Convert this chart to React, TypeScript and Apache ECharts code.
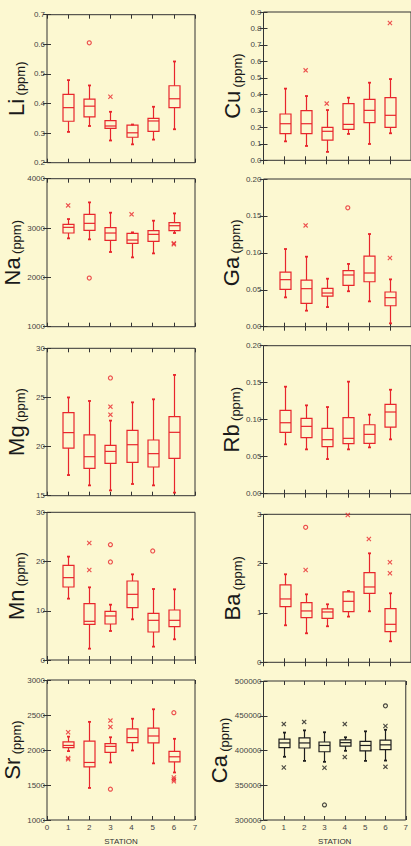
import React, { useEffect, useRef } from "react";
import * as echarts from "echarts";

// Stations (x positions)
const stations = [1, 2, 3, 4, 5, 6];
const stationTicks = [0, 1, 2, 3, 4, 5, 6, 7];

// Box data per station: [low whisker, Q1, median, Q3, high whisker]
const liBoxes = [
  [0.304, 0.34, 0.386, 0.431, 0.479],
  [0.324, 0.355, 0.391, 0.415, 0.461],
  [0.275, 0.316, 0.324, 0.342, 0.372],
  [0.262, 0.286, 0.301, 0.327, 0.329],
  [0.278, 0.306, 0.341, 0.35, 0.389],
  [0.313, 0.386, 0.416, 0.46, 0.542],
];
const liCircles = [[2, 0.605]];
const liStars = [[3, 0.423]];

const cuBoxes = [
  [0.115, 0.162, 0.222, 0.281, 0.435],
  [0.087, 0.162, 0.222, 0.301, 0.39],
  [0.051, 0.123, 0.176, 0.2, 0.305],
  [0.16, 0.188, 0.218, 0.344, 0.38],
  [0.099, 0.229, 0.303, 0.37, 0.471],
  [0.164, 0.2, 0.273, 0.38, 0.493],
];
const cuCircles: number[][] = [];
const cuStars = [[2, 0.546], [3, 0.344], [6, 0.833]];

const naBoxes = [
  [2791, 2899, 3014, 3074, 3182],
  [2770, 2953, 3095, 3277, 3520],
  [2514, 2750, 2899, 3007, 3311],
  [2405, 2689, 2757, 2892, 2912],
  [2486, 2730, 2872, 2946, 3149],
  [2899, 2946, 3047, 3108, 3297],
];
const naCircles = [[2, 1986]];
const naStars = [[1, 3459], [4, 3277], [6, 2690], [6, 2670]];

const gaBoxes = [
  [0.0397, 0.0506, 0.0637, 0.074, 0.1052],
  [0.0217, 0.0316, 0.0515, 0.0632, 0.0948],
  [0.0266, 0.0415, 0.0456, 0.0519, 0.065],
  [0.048, 0.056, 0.07, 0.076, 0.085],
  [0.0343, 0.0609, 0.0727, 0.0957, 0.1255],
  [0.0045, 0.0284, 0.0393, 0.047, 0.0641],
];
const gaCircles = [[4, 0.161]];
const gaStars = [[2, 0.1372], [6, 0.093]];

const mgBoxes = [
  [17.1, 19.85, 21.42, 23.45, 25.0],
  [16.05, 17.78, 18.97, 21.18, 24.64],
  [15.54, 18.29, 19.51, 20.13, 22.64],
  [16.19, 18.39, 20.19, 21.65, 24.5],
  [16.05, 17.92, 19.28, 20.67, 24.81],
  [15.31, 18.8, 21.45, 23.04, 27.29],
];
const mgCircles = [[3, 26.98]];
const mgStars = [[3, 24.06], [3, 23.25]];

const rbBoxes = [
  [0.0667, 0.0829, 0.0959, 0.1126, 0.1446],
  [0.0599, 0.0757, 0.091, 0.1018, 0.1194],
  [0.0468, 0.0635, 0.073, 0.0883, 0.1171],
  [0.0599, 0.0676, 0.0748, 0.1027, 0.1514],
  [0.0626, 0.068, 0.0802, 0.0932, 0.1068],
  [0.0734, 0.0901, 0.1104, 0.1207, 0.1405],
];
const rbCircles: number[][] = [];
const rbStars: number[][] = [];

const mnBoxes = [
  [12.46, 14.83, 16.73, 19.23, 21.0],
  [2.3, 7.25, 7.86, 11.44, 14.76],
  [5.89, 7.31, 8.94, 9.89, 11.24],
  [8.26, 10.63, 13.34, 16.05, 17.4],
  [2.71, 5.69, 8.06, 9.48, 14.42],
  [4.2, 6.77, 8.06, 10.16, 14.36],
];
const mnCircles = [[3, 23.43], [3, 19.91], [5, 22.14]];
const mnStars = [[2, 23.77], [2, 18.28]];

const baBoxes = [
  [0.75, 1.128, 1.284, 1.568, 1.784],
  [0.588, 0.905, 1.041, 1.209, 1.378],
  [0.73, 0.892, 1.02, 1.081, 1.176],
  [0.926, 1.027, 1.236, 1.426, 1.446],
  [1.034, 1.399, 1.527, 1.818, 2.209],
  [0.426, 0.622, 0.77, 1.088, 1.399],
];
const baCircles = [[2, 2.736]];
const baStars = [[2, 1.872], [4, 2.986], [5, 2.5], [6, 2.027], [6, 1.804]];

const srBoxes = [
  [1984, 2034, 2065, 2115, 2191],
  [1458, 1760, 1822, 2128, 2402],
  [1822, 1966, 2052, 2092, 2182],
  [1993, 2106, 2178, 2303, 2447],
  [1809, 2101, 2200, 2312, 2582],
  [1679, 1831, 1903, 1980, 2160],
];
const srCircles = [[3, 1440], [6, 2533]];
const srStars = [[1, 2254], [1, 1885], [1, 1868], [3, 2420], [3, 2330], [6, 1607], [6, 1580], [6, 1553]];

const caBoxes = [
  [390950, 404072, 410860, 416290, 425792],
  [385068, 403620, 410860, 418100, 428959],
  [383710, 398190, 407240, 412217, 426244],
  [399548, 406335, 411312, 415385, 419005],
  [385068, 399548, 407240, 413122, 427602],
  [385520, 401357, 408145, 414932, 429864],
];
const caCircles = [[3, 321719], [6, 464253]];
const caStars = [[1, 438009], [1, 375566], [2, 441176], [3, 375113], [4, 438009], [4, 390498], [6, 435294], [6, 376471]];

const RED = "#e8262c";
const BLACK = "#1e1e1e";
const AXIS = "#333333";
const BG = "#fcf8d1";
const FONT = "'Liberation Sans', Arial, Helvetica, sans-serif";

type Panel = {
  el: string;
  boxes: number[][];
  circles: number[][];
  stars: number[][];
  min: number;
  max: number;
  interval: number;
  decimals: number;
  left: number;
  width: number;
  top: number;
  height: number;
  color: string;
  bottomRow: boolean;
};

const L = 47;
const LW = 148;
const R = 263.5;
const RW = 149;

const panels: Panel[] = [
  { el: "Li", boxes: liBoxes, circles: liCircles, stars: liStars, min: 0.2, max: 0.7, interval: 0.1, decimals: 1, left: L, width: LW, top: 14.7, height: 148, color: RED, bottomRow: false },
  { el: "Cu", boxes: cuBoxes, circles: cuCircles, stars: cuStars, min: 0, max: 0.9, interval: 0.1, decimals: 1, left: R, width: RW, top: 12, height: 148.3, color: RED, bottomRow: false },
  { el: "Na", boxes: naBoxes, circles: naCircles, stars: naStars, min: 1000, max: 4000, interval: 1000, decimals: 0, left: L, width: LW, top: 178.7, height: 148, color: RED, bottomRow: false },
  { el: "Ga", boxes: gaBoxes, circles: gaCircles, stars: gaStars, min: 0, max: 0.2, interval: 0.05, decimals: 2, left: R, width: RW, top: 179, height: 147.7, color: RED, bottomRow: false },
  { el: "Mg", boxes: mgBoxes, circles: mgCircles, stars: mgStars, min: 15, max: 30, interval: 5, decimals: 0, left: L, width: LW, top: 348.3, height: 147.4, color: RED, bottomRow: false },
  { el: "Rb", boxes: rbBoxes, circles: rbCircles, stars: rbStars, min: 0, max: 0.2, interval: 0.05, decimals: 2, left: R, width: RW, top: 345.7, height: 148, color: RED, bottomRow: false },
  { el: "Mn", boxes: mnBoxes, circles: mnCircles, stars: mnStars, min: 0, max: 30, interval: 10, decimals: 0, left: L, width: LW, top: 512.3, height: 147.7, color: RED, bottomRow: false },
  { el: "Ba", boxes: baBoxes, circles: baCircles, stars: baStars, min: 0, max: 3, interval: 1, decimals: 0, left: R, width: RW, top: 514.3, height: 148, color: RED, bottomRow: false },
  { el: "Sr", boxes: srBoxes, circles: srCircles, stars: srStars, min: 1000, max: 3000, interval: 500, decimals: 0, left: L, width: LW, top: 680, height: 148.3, color: RED, bottomRow: true },
  { el: "Ca", boxes: caBoxes, circles: caCircles, stars: caStars, min: 300000, max: 500000, interval: 50000, decimals: 0, left: R, width: RW, top: 681, height: 147.3, color: BLACK, bottomRow: true },
];

const STAR_PATH =
  "path://M0 1.6L1.6 0L5 3.4L8.4 0L10 1.6L6.6 5L10 8.4L8.4 10L5 6.6L1.6 10L0 8.4L3.4 5Z";

function makeRenderer(color: string) {
  return function (_params: any, api: any) {
    const x = api.value(0);
    const lo = api.coord([x, api.value(1)]);
    const q1 = api.coord([x, api.value(2)]);
    const md = api.coord([x, api.value(3)]);
    const q3 = api.coord([x, api.value(4)]);
    const hi = api.coord([x, api.value(5)]);
    const cx = Math.round(lo[0]) + 0.5;
    const hw = 5.5;
    const cw = 1.5;
    const style = { stroke: color, lineWidth: 1.2, fill: "none" };
    return {
      type: "group",
      children: [
        { type: "line", shape: { x1: cx, y1: hi[1], x2: cx, y2: q3[1] }, style },
        { type: "line", shape: { x1: cx, y1: q1[1], x2: cx, y2: lo[1] }, style },
        { type: "line", shape: { x1: cx - cw, y1: hi[1], x2: cx + cw, y2: hi[1] }, style: { ...style, lineWidth: 1.8 } },
        { type: "line", shape: { x1: cx - cw, y1: lo[1], x2: cx + cw, y2: lo[1] }, style: { ...style, lineWidth: 1.8 } },
        { type: "rect", shape: { x: cx - hw, y: q3[1], width: hw * 2, height: q1[1] - q3[1] }, style },
        { type: "line", shape: { x1: cx - hw, y1: md[1], x2: cx + hw, y2: md[1] }, style },
      ],
    };
  };
}

function buildOption() {
  const grid: any[] = [];
  const xAxis: any[] = [];
  const yAxis: any[] = [];
  const series: any[] = [];

  panels.forEach((p, i) => {
    grid.push({
      left: p.left,
      top: p.top,
      width: p.width,
      height: p.height,
      show: true,
      borderColor: AXIS,
      borderWidth: 1,
      backgroundColor: "transparent",
    });
    const tick = { show: true, inside: true, length: 4, lineStyle: { color: AXIS, width: 1 } };
    xAxis.push({
      type: "value",
      gridIndex: i,
      position: "bottom",
      min: stationTicks[0],
      max: stationTicks[stationTicks.length - 1],
      interval: 1,
      axisLine: { show: false },
      axisTick: tick,
      splitLine: { show: false },
      axisLabel: {
        show: p.bottomRow,
        fontSize: 8,
        color: "#444",
        fontFamily: FONT,
        margin: 3,
      },
      name: p.bottomRow ? "STATION" : "",
      nameLocation: "middle",
      nameGap: 17,
      nameTextStyle: { fontSize: 8, color: "#333", fontFamily: FONT, verticalAlign: "top" },
    });
    xAxis.push({
      type: "value",
      gridIndex: i,
      position: "top",
      min: stationTicks[0],
      max: stationTicks[stationTicks.length - 1],
      interval: 1,
      axisLine: { show: false },
      axisTick: tick,
      splitLine: { show: false },
      axisLabel: { show: false },
    });
    yAxis.push({
      type: "value",
      gridIndex: i,
      position: "left",
      min: p.min,
      max: p.max,
      interval: p.interval,
      axisLine: { show: false },
      axisTick: tick,
      splitLine: { show: false },
      axisLabel: {
        fontSize: 8,
        color: "#444",
        fontFamily: FONT,
        margin: 2,
        formatter: (v: number) => v.toFixed(p.decimals),
      },
      name: "{a|" + p.el + "} {b|(ppm)}",
      nameLocation: "middle",
      nameRotate: 90,
      nameGap: 20,
      nameTextStyle: {
        fontFamily: FONT,
        rich: {
          a: { fontSize: 22, color: "#1a1a1a", fontFamily: FONT, verticalAlign: "bottom", lineHeight: 24 },
          b: { fontSize: 13, color: "#1a1a1a", fontFamily: FONT, verticalAlign: "bottom", lineHeight: 24 },
        },
      },
    });
    yAxis.push({
      type: "value",
      gridIndex: i,
      position: "right",
      min: p.min,
      max: p.max,
      interval: p.interval,
      axisLine: { show: false },
      axisTick: tick,
      splitLine: { show: false },
      axisLabel: { show: false },
    });

    series.push({
      type: "custom",
      xAxisIndex: i * 2,
      yAxisIndex: i * 2,
      renderItem: makeRenderer(p.color),
      encode: { x: 0, y: [1, 2, 3, 4, 5] },
      data: p.boxes.map((b, k) => [stations[k], ...b]),
      silent: true,
    });
    series.push({
      type: "scatter",
      xAxisIndex: i * 2,
      yAxisIndex: i * 2,
      symbol: "circle",
      symbolSize: 4,
      itemStyle: { color: "rgba(0,0,0,0)", borderColor: p.color, borderWidth: 1.2 },
      data: p.circles,
      silent: true,
    });
    series.push({
      type: "scatter",
      xAxisIndex: i * 2,
      yAxisIndex: i * 2,
      symbol: STAR_PATH,
      symbolSize: 5,
      itemStyle: { color: p.color },
      data: p.stars,
      silent: true,
    });
  });

  return {
    animation: false,
    backgroundColor: BG,
    textStyle: { fontFamily: FONT },
    grid,
    xAxis,
    yAxis,
    series,
  };
}

export default function App() {
  const ref = useRef<HTMLDivElement>(null);
  useEffect(() => {
    if (!ref.current) return;
    const chart = echarts.init(ref.current, null, { renderer: "svg" });
    chart.setOption(buildOption() as any);
    return () => chart.dispose();
  }, []);
  return (
    <div
      ref={ref}
      style={{ position: "absolute", left: 0, top: 0, width: 411, height: 846, background: BG, overflow: "hidden" }}
    />
  );
}
